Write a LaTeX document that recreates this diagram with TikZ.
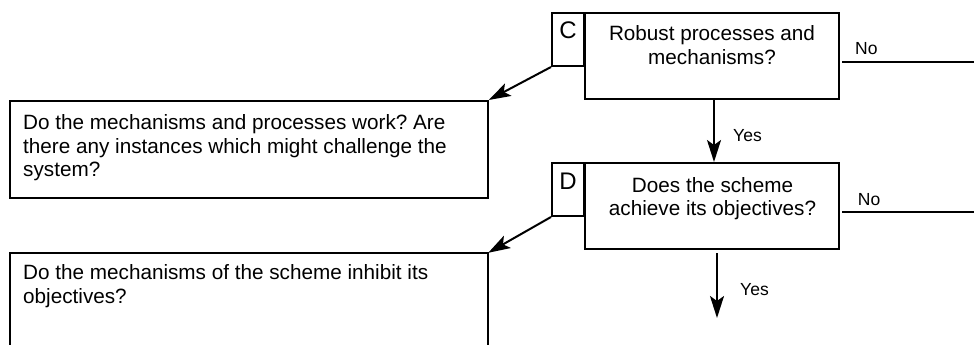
\documentclass[tikz,border=0pt]{standalone}
\usepackage{fontspec}
\setmainfont{Liberation Sans}
\usetikzlibrary{arrows.meta}
\frenchspacing
\begin{document}
\begin{tikzpicture}[x=1pt,y=-1pt,
  box/.style={draw, line width=2pt, rectangle, inner sep=0pt},
  txt/.style={inner sep=0pt, font=\fontsize{20.7}{23.3}\selectfont},
  lbl/.style={inner sep=0pt, font=\fontsize{17.5}{20}\selectfont},
  letter/.style={inner sep=0pt, font=\fontsize{24}{28}\selectfont},
  arr/.style={line width=2pt, -{Stealth[length=22pt,width=14pt,inset=5pt]}},
  ln/.style={line width=2pt}]
\useasboundingbox (0,0) rectangle (974,345);
% boxes
\node[box, minimum width=254pt, minimum height=86pt] (bC) at (712,56) {};
\node[box, minimum width=32pt, minimum height=53pt] (lC) at (568,39.5) {};
\node[box, minimum width=254pt, minimum height=86pt] (bD) at (712,206) {};
\node[box, minimum width=32pt, minimum height=53pt] (lD) at (568,189.5) {};
\node[box, minimum width=477.7pt, minimum height=97pt] (q1) at (248.9,149.5) {};
\node[inner sep=0pt, minimum width=478pt, minimum height=92pt] (q2) at (249,299) {};
\draw[ln] (q2.south west) -- (q2.north west) -- (q2.north east) -- (q2.south east);
% texts
\node[txt, anchor=north, align=center] (tC) at (712,25.6) {Robust processes and\\mechanisms?};
\node[txt, anchor=north, align=center] (tD) at (712.5,176.8) {Does the scheme\\achieve its objectives?};
\node[txt, anchor=north west, align=left] (t1) at (23,114.5) {Do the mechanisms and processes work? Are\\there any instances which might challenge the\\system?};
\node[txt, anchor=north west, align=left] (t2) at (23,264.5) {Do the mechanisms of the scheme inhibit its\\objectives?};
\node[letter, anchor=base] (cC) at (568,38.3) {C};
\node[letter, anchor=base] (cD) at (568,189.5) {D};
\node[lbl, anchor=base west] (nC) at (855,55) {No};
\node[lbl, anchor=base west] (nD) at (857.7,205) {No};
\node[lbl, anchor=base west] (y1) at (733,141.7) {Yes};
\node[lbl, anchor=base west] (y2) at (740,295.7) {Yes};
% connectors
\coordinate (noC) at (974,62);
\coordinate (noD) at (974,212);
\coordinate (endD) at (717,318);
\draw[arr] (lC.south west) -- (q1.north east);
\draw[arr] (lD.south west) -- (q2.north east);
\draw[arr] ([xshift=2pt]bC.south) -- ([xshift=2pt]bD.north);
\draw[arr] ([xshift=5pt,yshift=-3pt]bD.south) -- (endD);
\draw[ln] ([xshift=2pt]bC.east |- noC) -- (noC);
\draw[ln] ([xshift=2pt]bD.east |- noD) -- (noD);
\end{tikzpicture}
\end{document}
